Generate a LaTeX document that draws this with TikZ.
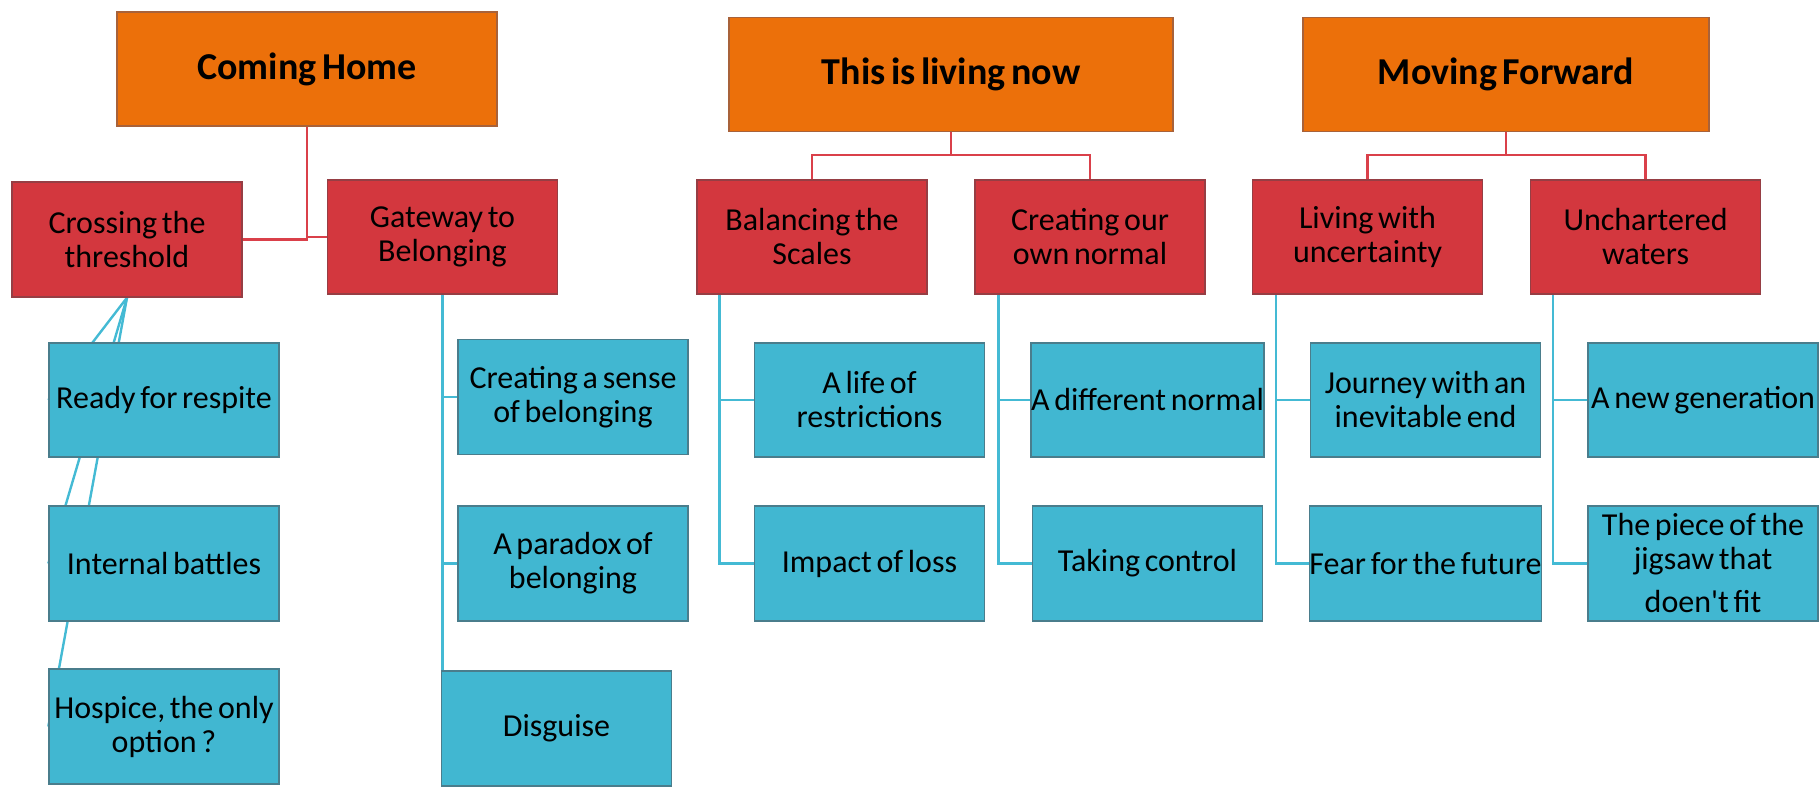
\documentclass[tikz,border=0pt]{standalone}
\usepackage{fontspec}
\setmainfont{Carlito}[WordSpace=0.65]
\setmonofont{Carlito}
\usetikzlibrary{backgrounds}
\definecolor{orangefill}{RGB}{236,112,10}
\definecolor{orangeedge}{RGB}{168,98,58}
\definecolor{redfill}{RGB}{211,55,62}
\definecolor{rededge}{RGB}{150,62,68}
\definecolor{bluefill}{RGB}{65,183,209}
\definecolor{blueedge}{RGB}{74,125,140}
\definecolor{redconn}{RGB}{218,64,74}
\definecolor{blueconn}{RGB}{68,186,212}
\tikzset{
  topbox/.style={draw=orangeedge, fill=orangefill, line width=1.3pt, minimum height=114pt, inner sep=0pt, align=center, font=\fontsize{38}{40}\selectfont\bfseries},
  midbox/.style={draw=rededge, fill=redfill, line width=1.3pt, minimum width=230pt, minimum height=114pt, inner sep=0pt, align=center, font=\fontsize{32}{34}\selectfont},
  leafbox/.style={draw=blueedge, fill=bluefill, line width=1.3pt, minimum width=230pt, minimum height=114pt, inner sep=0pt, align=center, font=\fontsize{32}{34}\selectfont},
  redlink/.style={draw=redconn, line width=2.4pt},
  bluelink/.style={draw=blueconn, line width=2.4pt}
}
\begin{document}
\begin{tikzpicture}[x=1pt,y=-1pt]
\useasboundingbox (0,0) rectangle (1819,794);
% top level
\node[topbox, minimum width=380pt] (ch) at (307,69) {Coming Home};
\node[topbox, minimum width=444pt] (tl) at (951,74.5) {This is living now};
\node[topbox, minimum width=406pt] (mf) at (1506,74.5) {Moving Forward};
% second level
\node[midbox, minimum height=115pt] (ct) at (127,239.5) {Crossing the\\threshold};
\node[midbox] (gb) at (442.5,237) {Gateway to\\Belonging};
\node[midbox] (bs) at (812,237) {Balancing the\\Scales};
\node[midbox] (co) at (1090,237) {Creating our\\own normal};
\node[midbox] (lu) at (1367.5,237) {Living with\\uncertainty};
\node[midbox] (uw) at (1645.5,237) {Unchartered\\waters};
% leaves
\node[leafbox] (rr) at (164,400) {Ready for respite};
\node[leafbox, minimum height=115pt] (ib) at (164,563.5) {Internal battles};
\node[leafbox, minimum height=115pt] (ho) at (164,726.5) {Hospice, the only\\option ?};
\node[leafbox, minimum height=115pt] (cs) at (573,397) {Creating a sense\\of belonging};
\node[leafbox, minimum height=115pt] (pb) at (573,563.5) {A paradox of\\belonging};
\node[leafbox, minimum height=115pt] (dg) at (556.5,728.5) {Disguise};
\node[leafbox] (lr) at (869.5,400) {A life of\\restrictions};
\node[leafbox, minimum height=115pt] (il) at (869.5,563.5) {Impact of loss};
\node[leafbox] (dn) at (1147.5,400) {A different normal};
\node[leafbox, minimum height=115pt] (tc) at (1147.5,563.5) {Taking control};
\node[leafbox] (jw) at (1425.5,400) {Journey with an\\inevitable end};
\node[leafbox, minimum height=115pt] (ff) at (1425.5,563.5) {Fear for the future};
\node[leafbox] (ng) at (1703,400) {A new generation};
\node[leafbox, minimum height=115pt] (pj) at (1703,563.5) {The piece of the\\jigsaw that\\[9pt]doen{\ttfamily'}t fit};
\begin{scope}[on background layer]
% red connectors
\draw[redlink] (ct.east) -| (ch.south);
\draw[redlink] (gb.west) -| (ch.south);
\draw[redlink] (tl.south) -- (tl.south |- 0,155) -| (bs.north);
\draw[redlink] (tl.south |- 0,155) -| (co.north);
\draw[redlink] (mf.south) -- (mf.south |- 0,155) -| (lu.north);
\draw[redlink] (mf.south |- 0,155) -| (uw.north);
% blue connectors
\draw[bluelink] (ct.south) -- (rr.west);
\draw[bluelink] (ct.south) -- (ib.west);
\draw[bluelink] (ct.south) -- (ho.west);
\draw[bluelink] (gb.south) |- (cs.west);
\draw[bluelink] (gb.south) |- (pb.west);
\draw[bluelink] (gb.south) |- (dg.west);
\draw[bluelink] ([xshift=23pt]bs.south west) |- (lr.west);
\draw[bluelink] ([xshift=23pt]bs.south west) |- (il.west);
\draw[bluelink] ([xshift=24pt]co.south west) |- (dn.west);
\draw[bluelink] ([xshift=24pt]co.south west) |- (tc.west);
\draw[bluelink] ([xshift=24pt]lu.south west) |- (jw.west);
\draw[bluelink] ([xshift=24pt]lu.south west) |- (ff.west);
\draw[bluelink] ([xshift=23pt]uw.south west) |- (ng.west);
\draw[bluelink] ([xshift=23pt]uw.south west) |- (pj.west);
\end{scope}
\end{tikzpicture}
\end{document}
